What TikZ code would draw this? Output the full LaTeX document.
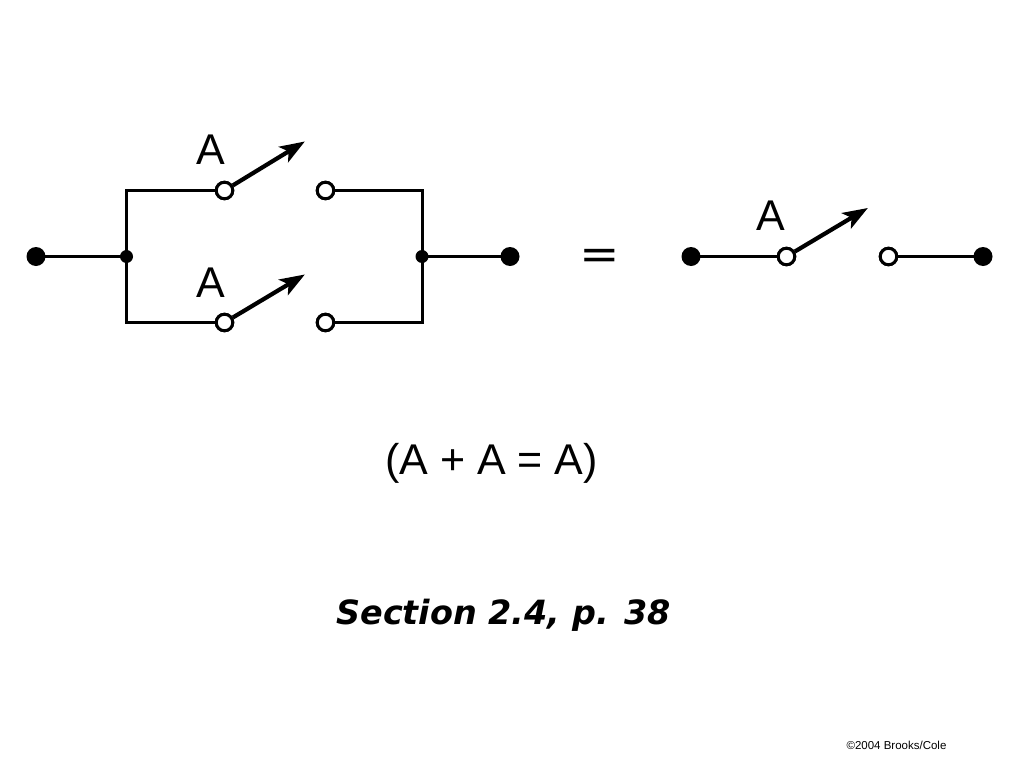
\documentclass[tikz,border=0pt]{standalone}
\usepackage{fontspec}
\setmainfont{Liberation Sans}
\newfontfamily\secfont{DejaVu Sans}
\usetikzlibrary{arrows.meta}
\tikzset{
  x=1pt,y=-1pt,
  wire/.style={line width=3pt,black,line join=miter,shorten <=-1pt,shorten >=-1pt},
  lever/.style={line width=4.2pt,black,-{Stealth[length=25pt,width=18pt,inset=6pt]},shorten >=-1pt},
  term/.style={circle,fill=black,draw=none,inner sep=0pt,minimum size=19pt},
  junc/.style={circle,fill=black,draw=none,inner sep=0pt,minimum size=13pt},
  contact/.style={circle,fill=white,draw=black,line width=3pt,inner sep=0pt,minimum size=16.5pt},
  bigtxt/.style={inner sep=0pt,font=\fontsize{43}{43}\selectfont},
}
\begin{document}
\begin{tikzpicture}
\useasboundingbox (0,0) rectangle (1024,768);
\fill[white] (0,0) rectangle (1024,768);
% nodes
\node[term] (t1) at (36,256.5) {};
\node[term] (t2) at (510,256.5) {};
\node[term] (t3) at (691,256.5) {};
\node[term] (t4) at (983,256.5) {};
\node[junc] (j1) at (126.5,256.5) {};
\node[junc] (j2) at (422,256.5) {};
\node[contact] (c1) at (224.5,190.5) {};
\node[contact] (c2) at (325.5,190.5) {};
\node[contact] (c3) at (224.5,322.5) {};
\node[contact] (c4) at (325.5,322.5) {};
\node[contact] (c5) at (786.5,256.5) {};
\node[contact] (c6) at (888.5,256.5) {};
\coordinate (e1) at (304,142);
\coordinate (e2) at (304,275);
\coordinate (e3) at (867,208.5);
% wires
\draw[wire] (t1) -- (j1);
\draw[wire] (j2) -- (t2);
\draw[wire] (j1) |- (c1);
\draw[wire] (j1) |- (c3);
\draw[wire] (j2) |- (c2);
\draw[wire] (j2) |- (c4);
\draw[wire] (t3) -- (c5);
\draw[wire] (c6) -- (t4);
% levers
\draw[lever] (c1) -- (e1);
\draw[lever] (c3) -- (e2);
\draw[lever] (c5) -- (e3);
% redraw contacts above levers and wires
\node[contact] at (c1) {};
\node[contact] at (c2) {};
\node[contact] at (c3) {};
\node[contact] at (c4) {};
\node[contact] at (c5) {};
\node[contact] at (c6) {};
% labels
\node[bigtxt] (l1) at (211,149.5) {A};
\node[bigtxt] (l2) at (211,282.5) {A};
\node[bigtxt] (l3) at (771,216) {A};
\node[inner sep=0pt,yscale=0.55,font=\bfseries\fontsize{60}{60}\selectfont] (eq) at (599.5,258) {=};
\node[bigtxt] (f) at (491.5,463) {(A + A = A)};
\node[inner sep=0pt,font=\secfont\bfseries\itshape\fontsize{33.4}{33.4}\selectfont] (s) at (503.5,615) {Section 2.4, p. 38};
\node[inner sep=0pt,font=\fontsize{11.5}{11.5}\selectfont] (c) at (896.5,745) {©2004 Brooks/Cole};
\end{tikzpicture}
\end{document}
